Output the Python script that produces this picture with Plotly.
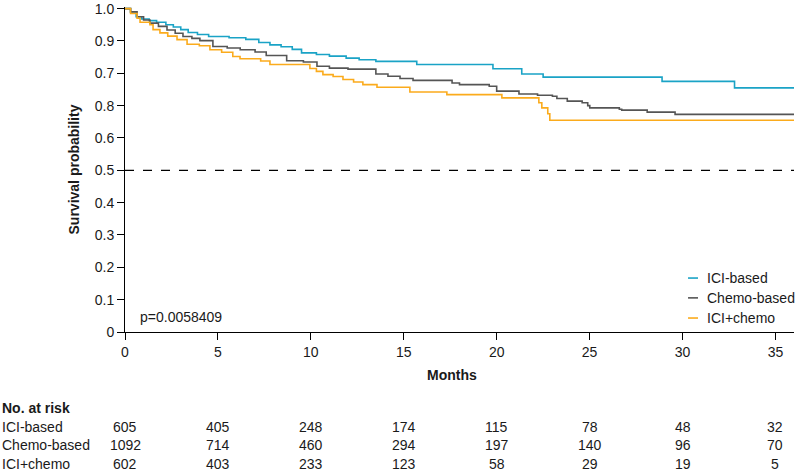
import plotly.graph_objects as go

# ---------------- data ----------------
ici_t = [0, 0.3, 0.6, 0.9, 1.3, 1.7, 2.2, 2.6, 3.0, 3.4, 3.9, 4.5, 5.6, 6.5, 7.2, 7.8, 8.4, 9.0, 9.5,
         10.3, 11.0, 11.9, 12.6, 13.5, 15.7, 19.8, 21.35, 22.5, 28.9, 32.8, 36]
ici_s = [1.0, 0.99, 0.975, 0.968, 0.963, 0.958, 0.950, 0.943, 0.935, 0.926, 0.920, 0.914, 0.910, 0.905,
         0.895, 0.888, 0.882, 0.874, 0.863, 0.858, 0.853, 0.847, 0.842, 0.837, 0.827, 0.814, 0.798,
         0.788, 0.775, 0.755, 0.755]

chemo_t = [0, 0.3, 0.65, 1.0, 1.34, 1.8, 2.26, 2.7, 3.12, 3.6, 4.03, 4.73, 5.5, 6.2, 7.0, 7.6, 8.7, 9.6,
           10.33, 11.0, 12.0, 13.5, 14.15, 14.8, 15.5, 17.6, 18.0, 19.6, 20.0, 21.2, 22.2, 23.0, 23.24,
           23.8, 24.6, 24.9, 25.01, 26.6, 26.73, 28.1, 29.6, 36]
chemo_s = [1.0, 0.99, 0.975, 0.965, 0.955, 0.945, 0.934, 0.924, 0.914, 0.908, 0.901, 0.883, 0.878, 0.873,
           0.866, 0.855, 0.839, 0.835, 0.822, 0.816, 0.813, 0.798, 0.791, 0.784, 0.778, 0.770, 0.765,
           0.760, 0.745, 0.736, 0.732, 0.729, 0.722, 0.714, 0.709, 0.700, 0.693, 0.689, 0.686, 0.680,
           0.673, 0.673]

combo_t = [0, 0.3, 0.65, 0.81, 1.34, 1.51, 1.88, 2.3, 2.8, 3.34, 4.0, 4.57, 5.2, 5.8, 6.19, 7.3, 7.8,
           9.95, 10.3, 10.65, 11.2, 11.73, 12.3, 12.8, 13.56, 15.33, 17.32, 20.28, 22.27, 22.43, 22.75,
           22.86, 36]
combo_s = [1.0, 0.985, 0.970, 0.958, 0.950, 0.935, 0.925, 0.915, 0.904, 0.890, 0.885, 0.873, 0.865,
           0.852, 0.845, 0.838, 0.827, 0.815, 0.806, 0.796, 0.790, 0.781, 0.773, 0.765, 0.757, 0.742,
           0.734, 0.724, 0.709, 0.693, 0.675, 0.655, 0.655]

group_names = ["ICI-based", "Chemo-based", "ICI+chemo"]
group_colors = ["#1aa3c6", "#555555", "#fbab1c"]

risk_times = [0, 5, 10, 15, 20, 25, 30, 35]
risk_ici = [605, 405, 248, 174, 115, 78, 48, 32]
risk_chemo = [1092, 714, 460, 294, 197, 140, 96, 70]
risk_combo = [602, 403, 233, 123, 58, 29, 19, 5]

y_tickvals = [0, 0.1, 0.2, 0.3, 0.4, 0.5, 0.6, 0.7, 0.8, 0.9, 1.0]
y_ticktext = ["0", "0.1", "0.2", "0.3", "0.4", "0.5", "0.6", "0.8", "0.7", "0.9", "1.0"]
x_tickvals = [0, 5, 10, 15, 20, 25, 30, 35]

p_text = "p=0.0058409"

# ---------------- figure ----------------
FONT = "Liberation Sans, Arial, Helvetica, sans-serif"
TXT = "#1a1a1a"
fig = go.Figure()

for name, t, s, c in zip(group_names, [ici_t, chemo_t, combo_t], [ici_s, chemo_s, combo_s], group_colors):
    fig.add_trace(go.Scatter(x=t, y=s, mode="lines", name=name, showlegend=False,
                             line=dict(color=c, width=1.6, shape="hv")))

# median reference line
fig.add_shape(type="line", xref="x", yref="y", x0=0, x1=36, y0=0.5, y1=0.5,
              line=dict(color="black", width=1.2, dash="dash"))

fig.add_annotation(x=0.7, y=0.045, xref="x", yref="y", text=p_text, showarrow=False,
                   xanchor="left", yanchor="middle", font=dict(size=14, color=TXT))

# custom legend (short line glyphs)
leg_y = [0.166, 0.105, 0.043]
for name, c, yy in zip(group_names, group_colors, leg_y):
    fig.add_shape(type="line", xref="paper", yref="paper", x0=0.8416, x1=0.8565, y0=yy, y1=yy,
                  line=dict(color=c, width=1.6))
    fig.add_annotation(x=0.867, y=yy, xref="paper", yref="paper", text=name, showarrow=False,
                       xanchor="left", yanchor="middle", font=dict(size=14, color=TXT))

# Months title
fig.add_annotation(x=17.6, y=-0.132, xref="x", yref="paper", text="<b>Months</b>", showarrow=False,
                   xanchor="center", yanchor="middle", font=dict(size=14, color=TXT))

# at-risk table
lx = -125 / 669
fig.add_annotation(x=lx, y=-0.234, xref="paper", yref="paper", text="<b>No. at risk</b>", showarrow=False,
                   xanchor="left", yanchor="middle", font=dict(size=14, color=TXT))
row_y = [-0.292, -0.348, -0.406]
for name, row, yy in zip(group_names, [risk_ici, risk_chemo, risk_combo], row_y):
    fig.add_annotation(x=lx, y=yy, xref="paper", yref="paper", text=name, showarrow=False,
                       xanchor="left", yanchor="middle", font=dict(size=14, color=TXT))
    for tt, n in zip(risk_times, row):
        fig.add_annotation(x=tt, y=yy, xref="x", yref="paper", text=str(n), showarrow=False,
                           xanchor="center", yanchor="middle", font=dict(size=14, color=TXT))

fig.update_layout(
    width=795, height=471,
    margin=dict(l=125, r=1, t=5, b=139),
    paper_bgcolor="white", plot_bgcolor="white",
    font=dict(family=FONT, size=14, color=TXT),
    showlegend=False,
    xaxis=dict(range=[0, 36], tickvals=x_tickvals, showline=True, linecolor="black", linewidth=1,
               ticks="outside", ticklen=7, tickcolor="black", showgrid=False, zeroline=False,
               ticklabeloverflow="allow"),
    yaxis=dict(range=[0, 1.005], tickvals=y_tickvals, ticktext=y_ticktext, showline=True,
               linecolor="black", linewidth=1, ticks="outside", ticklen=7, tickcolor="black",
               showgrid=False, zeroline=False, ticklabeloverflow="allow",
               title=dict(text="<b>Survival probability</b>", font=dict(size=14), standoff=11)),
)

fig.write_html("out.html", config={"displayModeBar": False},
               post_script="document.body.style.margin='0px';")
